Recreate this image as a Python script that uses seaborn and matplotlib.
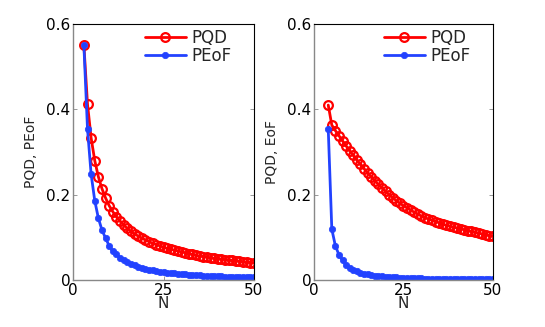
import matplotlib
matplotlib.use("Agg")
import matplotlib.pyplot as plt
import seaborn as sns
import pandas as pd

# ---- data ----
n_left = list(range(3, 51))
pqd_left = [0.550, 0.412, 0.333, 0.280, 0.242, 0.214, 0.192, 0.174, 0.160, 0.148,
            0.138, 0.129, 0.121, 0.114, 0.108, 0.103, 0.098, 0.094, 0.090, 0.086,
            0.083, 0.080, 0.077, 0.074, 0.072, 0.070, 0.068, 0.066, 0.064, 0.062,
            0.060, 0.058, 0.056, 0.055, 0.054, 0.052, 0.051, 0.050, 0.049, 0.048,
            0.047, 0.046, 0.045, 0.044, 0.043, 0.042, 0.041, 0.040]
peof_left = [0.550, 0.354, 0.248, 0.186, 0.145, 0.117, 0.098, 0.080, 0.067, 0.0598,
             0.0527, 0.0468, 0.0419, 0.0378, 0.0343, 0.0313, 0.0287, 0.0264, 0.0245, 0.0227,
             0.0211, 0.0197, 0.0185, 0.0174, 0.0163, 0.0154, 0.0146, 0.0138, 0.0131, 0.0125,
             0.0119, 0.0113, 0.0108, 0.0103, 0.0099, 0.0094, 0.0090, 0.0087, 0.0084, 0.0081,
             0.0078, 0.0075, 0.0072, 0.0070, 0.0067, 0.0065, 0.0063, 0.0061]

n_right = list(range(4, 51))
pqd_right = [0.410, 0.363, 0.350, 0.338, 0.326, 0.314, 0.303, 0.292, 0.281, 0.271,
             0.261, 0.251, 0.242, 0.233, 0.224, 0.216, 0.208, 0.200, 0.193, 0.186,
             0.180, 0.174, 0.169, 0.164, 0.159, 0.1545, 0.150, 0.146, 0.143, 0.140,
             0.137, 0.134, 0.131, 0.128, 0.126, 0.124, 0.122, 0.120, 0.118, 0.116,
             0.114, 0.112, 0.110, 0.108, 0.106, 0.104, 0.102]
eof_right = [0.354, 0.119, 0.080, 0.059, 0.046, 0.036, 0.029, 0.024, 0.020, 0.017,
             0.0150, 0.0132, 0.0117, 0.0105, 0.0095, 0.0087, 0.0079, 0.0072, 0.0066, 0.0061,
             0.0056, 0.0052, 0.0048, 0.0045, 0.0042, 0.0039, 0.0036, 0.0034, 0.0032, 0.0030,
             0.0028, 0.0027, 0.0025, 0.0024, 0.0023, 0.0022, 0.0021, 0.0020, 0.0019, 0.0018,
             0.0017, 0.0016, 0.0016, 0.0015, 0.0014, 0.0014, 0.0013]

legend_labels = ["PQD", "PEoF"]
y_labels = ["PQD, PEoF", "PQD, EoF"]
x_label = "N"
x_ticks = [0, 25, 50]
y_ticks = [0, 0.2, 0.4, 0.6]
y_ticklabels = ["0", "0.2", "0.4", "0.6"]

# ---- style ----
sns.set_style("ticks")
plt.rcParams["font.family"] = ["DejaVu Sans"]

RED = "#ff0000"
BLUE = "#2242ff"

fig = plt.figure(figsize=(5.45, 3.27), dpi=100)
ax1 = fig.add_axes([0.134, 0.1437, 0.332, 0.783])
ax2 = fig.add_axes([0.576, 0.1437, 0.3284, 0.783])

panels = [
    (ax1, n_left, pqd_left, peof_left, y_labels[0]),
    (ax2, n_right, pqd_right, eof_right, y_labels[1]),
]

for ax, n, red_vals, blue_vals, ylab in panels:
    df_r = pd.DataFrame({"N": n, "v": red_vals})
    df_b = pd.DataFrame({"N": n, "v": blue_vals})
    sns.lineplot(data=df_r, x="N", y="v", ax=ax, color=RED, linewidth=2.0,
                 marker="o", markersize=6.3, markerfacecolor="none",
                 markeredgecolor=RED, markeredgewidth=1.6, label=legend_labels[0])
    sns.lineplot(data=df_b, x="N", y="v", ax=ax, color=BLUE, linewidth=2.0,
                 marker="o", markersize=4.6, markerfacecolor=BLUE,
                 markeredgecolor=BLUE, markeredgewidth=0.5, label=legend_labels[1])
    ax.set_xlim(0, 50)
    ax.set_ylim(0, 0.6)
    ax.set_xticks(x_ticks)
    ax.set_xticklabels([str(t) for t in x_ticks])
    ax.set_yticks(y_ticks)
    ax.set_yticklabels(y_ticklabels)
    ax.set_xlabel(x_label, fontsize=11, labelpad=-1)
    ax.set_ylabel(ylab, fontsize=10, labelpad=6)
    ax.tick_params(direction="in", length=3, width=0.6, labelsize=11,
                   top=False, right=True, pad=2, colors="#888888", labelcolor="black")
    for side in ["left", "bottom"]:
        ax.spines[side].set_color("#888888")
        ax.spines[side].set_linewidth(1.0)
    for side in ["top", "right"]:
        ax.spines[side].set_color("black")
        ax.spines[side].set_linewidth(0.8)
    ax.legend(loc="upper right", bbox_to_anchor=(0.93, 1.02), frameon=False,
              fontsize=12, handlelength=2.5, handletextpad=0.3,
              labelspacing=0.0, borderaxespad=0.2)

fig.savefig("out.png", dpi=100)
